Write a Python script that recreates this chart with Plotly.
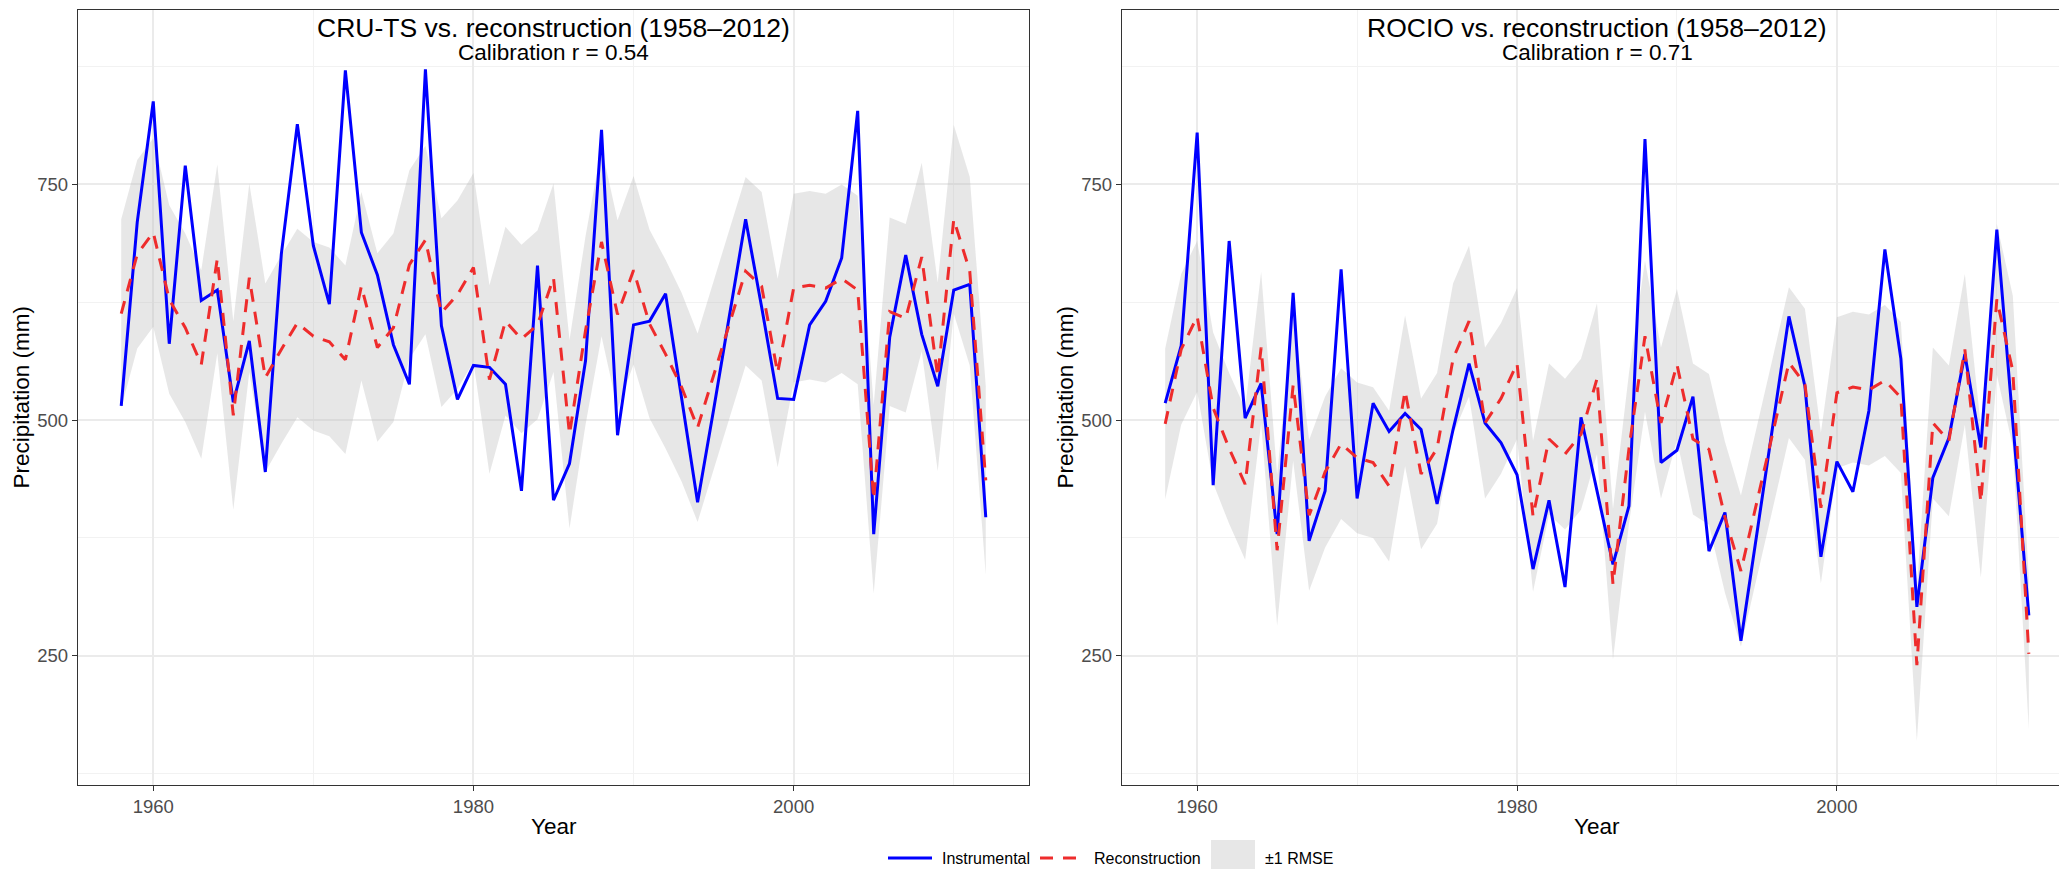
import plotly.graph_objects as go

years = list(range(1958, 2013))

cru_instrumental = [515, 710, 838, 581, 770, 627, 638, 519, 584, 445, 676, 814,
                    685, 623, 871, 699, 654, 580, 538, 872, 600, 522,
                    558, 556, 538, 425, 664, 415, 454, 563, 808, 484,
                    601, 605, 634, 525, 413, 511, 610, 713, 620, 523,
                    522, 601, 626, 672, 828, 379, 588, 675, 591, 536,
                    638, 644, 397]
cru_reconstruction = [613, 676, 699, 628, 598, 559, 671, 505, 651, 545, 575, 603,
                      589, 583, 564, 642, 577, 598, 665, 691, 614, 633,
                      662, 543, 605, 586, 601, 651, 485, 595, 689, 612,
                      659, 602, 570, 535, 492, 548, 603, 658, 642, 550,
                      640, 643, 640, 650, 638, 416, 615, 608, 673, 546,
                      713, 658, 436]
cru_rmse = 100

rocio_instrumental = [518, 579, 805, 431, 690, 502, 539, 379, 635, 372, 425, 660,
                      417, 518, 488, 507, 490, 411, 490, 560, 497, 476,
                      442, 342, 415, 323, 503, 425, 347, 409, 798, 455,
                      468, 525, 361, 402, 266, 380, 495, 610, 536, 355,
                      456, 424, 510, 681, 565, 302, 439, 481, 570, 471,
                      702, 497, 293]
rocio_reconstruction = [496, 575, 610, 513, 470, 432, 577, 362, 537, 399, 445, 475,
                        460, 455, 430, 531, 443, 470, 565, 605, 497, 523,
                        560, 398, 480, 464, 485, 544, 326, 470, 589, 497,
                        559, 480, 469, 397, 340, 412, 487, 561, 538, 407,
                        529, 535, 532, 542, 524, 240, 497, 478, 575, 413,
                        628, 552, 252]
rocio_rmse = 80

titles = ["CRU-TS vs. reconstruction (1958\u20132012)",
          "ROCIO vs. reconstruction (1958\u20132012)"]
subtitles = ["Calibration r = 0.54", "Calibration r = 0.71"]
series_names = ["Instrumental", "Reconstruction", "\u00b11 RMSE"]

W, H = 2067, 869
FONT = "Liberation Sans, Arial, Helvetica, sans-serif"
BLUE = "#0000FF"
RED = "#EE2C2C"
RIBBON = "rgba(185,185,185,0.35)"
DASH = "13px,10px"

panels = [
    dict(inst=cru_instrumental, rec=cru_reconstruction, rmse=cru_rmse,
         xpx=(70, 1021), xa="x", ya="y"),
    dict(inst=rocio_instrumental, rec=rocio_reconstruction, rmse=rocio_rmse,
         xpx=(1114, 2064), xa="x2", ya="y2"),
]
ypx = (2, 777)

fig = go.Figure()
for i, p in enumerate(panels):
    upper = [r + p["rmse"] for r in p["rec"]]
    lower = [r - p["rmse"] for r in p["rec"]]
    fig.add_trace(go.Scatter(
        x=years + years[::-1], y=upper + lower[::-1],
        fill="toself", fillcolor=RIBBON, line=dict(width=0),
        mode="lines", name=series_names[2], showlegend=False,
        xaxis=p["xa"], yaxis=p["ya"], hoverinfo="skip"))
    fig.add_trace(go.Scatter(
        x=years, y=p["inst"], mode="lines",
        line=dict(color=BLUE, width=3), name=series_names[0],
        showlegend=False, xaxis=p["xa"], yaxis=p["ya"]))
    fig.add_trace(go.Scatter(
        x=years, y=p["rec"], mode="lines",
        line=dict(color=RED, width=3, dash=DASH), name=series_names[1],
        showlegend=False, xaxis=p["xa"], yaxis=p["ya"]))

axis_common = dict(
    showline=True, mirror=True, linecolor="#333333", linewidth=1.3,
    ticks="outside", ticklen=5, tickwidth=1.3, tickcolor="#333333",
    tickfont=dict(family=FONT, size=18.5, color="#4D4D4D"),
    showgrid=True, gridcolor="#EBEBEB", gridwidth=1.6, zeroline=False,
)

layout = dict(
    width=W, height=H, margin=dict(l=0, r=0, t=0, b=0),
    paper_bgcolor="white", plot_bgcolor="white",
    font=dict(family=FONT, color="black"),
    showlegend=False,
    annotations=[], shapes=[],
)

ydom = [1 - ypx[1] / H, 1 - ypx[0] / H]
for i, p in enumerate(panels):
    sfx = "" if i == 0 else "2"
    x0, x1 = p["xpx"]
    layout["xaxis" + sfx] = dict(
        axis_common, domain=[x0 / W, x1 / W], range=[1955.3, 2014.7],
        tick0=1960, dtick=20,
        minor=dict(dtick=10, tick0=1960, showgrid=True, gridcolor="#F2F2F2",
                   gridwidth=1.0, ticks=""),
        anchor="y" + sfx)
    layout["yaxis" + sfx] = dict(
        axis_common, domain=ydom, range=[113, 935],
        tick0=0, dtick=250,
        minor=dict(dtick=125, tick0=0, showgrid=True, gridcolor="#F2F2F2",
                   gridwidth=1.0, ticks=""),
        anchor="x" + sfx)
    cx = (x0 + x1) / 2 / W
    layout["annotations"] += [
        dict(text=titles[i], x=cx, y=1 - 20 / H, xref="paper", yref="paper",
             showarrow=False, xanchor="center", yanchor="middle",
             font=dict(family=FONT, size=26.5, color="black")),
        dict(text=subtitles[i], x=cx, y=1 - 45 / H, xref="paper", yref="paper",
             showarrow=False, xanchor="center", yanchor="middle",
             font=dict(family=FONT, size=22.5, color="black")),
        dict(text="Year", x=cx, y=1 - 818 / H, xref="paper", yref="paper",
             showarrow=False, xanchor="center", yanchor="middle",
             font=dict(family=FONT, size=22.5, color="black")),
        dict(text="Precipitation (mm)", x=(x0 - 57) / W, y=(ydom[0] + ydom[1]) / 2,
             xref="paper", yref="paper", textangle=-90,
             showarrow=False, xanchor="center", yanchor="middle",
             font=dict(family=FONT, size=22.5, color="black")),
    ]

# legend (keys drawn as shapes, labels as text)
LEG_Y = 850
LEG_FONT = 16
key_w, key_h = 44, 36
legend_items = [
    dict(kind="line", color=BLUE, dash="solid", x=880, label=series_names[0]),
    dict(kind="line", color=RED, dash=DASH, x=1032, label=series_names[1]),
    dict(kind="box", color=RIBBON, x=1203, label=series_names[2]),
]
for it in legend_items:
    kx0, kx1 = it["x"], it["x"] + key_w
    if it["kind"] == "line":
        layout["shapes"].append(dict(
            type="line", xref="paper", yref="paper",
            x0=kx0 / W, x1=kx1 / W, y0=1 - LEG_Y / H, y1=1 - LEG_Y / H,
            line=dict(color=it["color"], width=3, dash=it["dash"])))
    else:
        layout["shapes"].append(dict(
            type="rect", xref="paper", yref="paper",
            x0=kx0 / W, x1=kx1 / W,
            y0=1 - (LEG_Y + key_h / 2) / H, y1=1 - (LEG_Y - key_h / 2) / H,
            line=dict(width=0), fillcolor=it["color"]))
    layout["annotations"].append(dict(
        text=it["label"], x=(kx1 + 8) / W, y=1 - LEG_Y / H,
        xref="paper", yref="paper", showarrow=False,
        xanchor="left", yanchor="middle",
        font=dict(family=FONT, size=LEG_FONT, color="black")))

fig.update_layout(**layout)
fig.write_html("out.html")
